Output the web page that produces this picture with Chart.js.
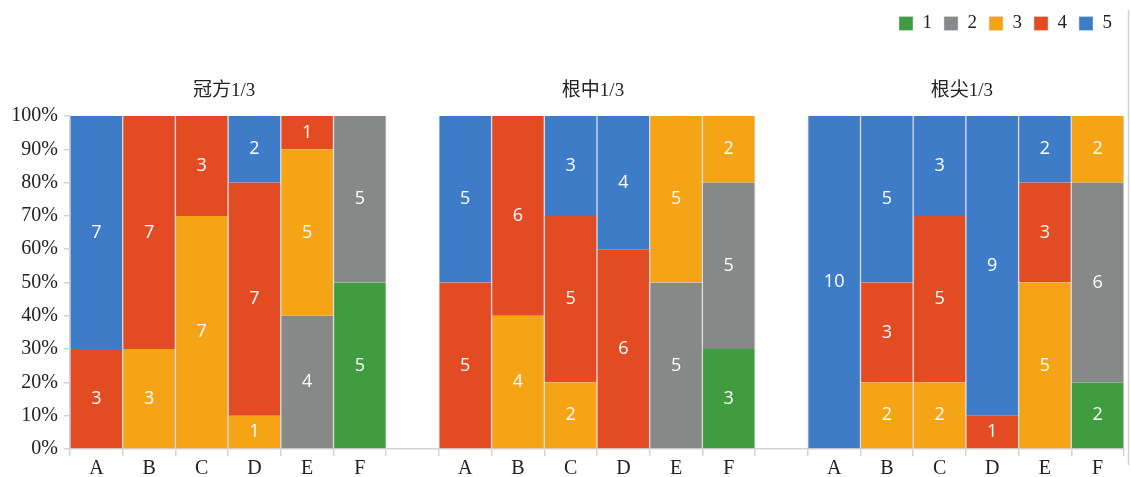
<!DOCTYPE html>
<html>
<head>
<meta charset="utf-8">
<script src="https://cdn.jsdelivr.net/npm/chart.js@4"></script>
<style>
  html, body { margin:0; padding:0; background:#fff; }
  #wrap { width:1131px; height:477px; position:relative; }
</style>
</head>
<body>
<div id="wrap"><canvas id="c" width="1131" height="477"></canvas></div>
<script>
const groups = ['冠方1/3', '根中1/3', '根尖1/3'];
const bars = ['A', 'B', 'C', 'D', 'E', 'F'];
const levels = ['1', '2', '3', '4', '5'];
const colors = ['#3f9c3f', '#878888', '#f4a415', '#e34c22', '#3f7cc8'];
const yTicks = [0, 10, 20, 30, 40, 50, 60, 70, 80, 90, 100];

// counts per bar, 冠方 A-F | 根中 A-F | 根尖 A-F
const level1 = [0,0,0,0,0,5,  0,0,0,0,0,3,  0,0,0,0,0,2];
const level2 = [0,0,0,0,4,5,  0,0,0,0,5,5,  0,0,0,0,0,6];
const level3 = [0,3,7,1,5,0,  0,4,2,0,5,2,  0,2,2,0,5,2];
const level4 = [3,7,3,7,1,0,  5,6,5,6,0,0,  0,3,5,1,3,0];
const level5 = [7,0,0,2,0,0,  5,0,3,4,0,0,  10,5,3,9,2,0];
const series = [level1, level2, level3, level4, level5];

// 6 bars per group, one empty slot between groups
const labels = [];
groups.forEach((g, i) => { if (i) labels.push(''); labels.push(...bars); });
const withGaps = (arr) => {
  const out = [];
  groups.forEach((g, i) => { if (i) out.push(null); out.push(...arr.slice(i * 6, i * 6 + 6)); });
  return out;
};
const totals = level1.map((_, i) => series.reduce((s, a) => s + a[i], 0));
const countsGap = series.map(withGaps);
const pct = series.map(a => withGaps(a.map((v, i) => v ? v / totals[i] * 100 : null)));

const serif = "'Liberation Serif', 'Noto Sans CJK SC', serif";
const axisColor = '#d3d3d3';

const segLabels = {
  id: 'segLabels',
  afterDatasetsDraw(chart) {
    const ctx = chart.ctx;
    ctx.save();
    ctx.fillStyle = '#fff';
    ctx.font = "18px 'Open Sans', sans-serif";
    ctx.textAlign = 'center';
    ctx.textBaseline = 'middle';
    chart.data.datasets.forEach((ds, di) => {
      chart.getDatasetMeta(di).data.forEach((el, i) => {
        const v = countsGap[di][i];
        if (!v) return;
        ctx.fillText(v, el.x, (el.y + el.base) / 2);
      });
    });
    ctx.restore();
  }
};

const groupTitles = {
  id: 'groupTitles',
  afterDraw(chart) {
    const ctx = chart.ctx, x = chart.scales.x, area = chart.chartArea;
    ctx.save();
    ctx.fillStyle = '#222';
    ctx.font = '19px ' + serif;
    ctx.textAlign = 'center';
    ctx.textBaseline = 'middle';
    groups.forEach((g, i) => {
      const a = x.getPixelForValue(i * 7), b = x.getPixelForValue(i * 7 + 5);
      ctx.fillText(g, (a + b) / 2 - 4, area.top - 25);
    });
    // right frame line
    ctx.strokeStyle = axisColor;
    ctx.lineWidth = 1.5;
    ctx.beginPath();
    ctx.moveTo(area.right + 4.5, 10);
    ctx.lineTo(area.right + 4.5, 465);
    ctx.stroke();
    ctx.restore();
  }
};

const legendSpace = {
  id: 'legendSpace',
  beforeInit(chart) {
    const fit = chart.legend.fit;
    chart.legend.fit = function () { fit.bind(chart.legend)(); this.height = 114; };
  }
};

new Chart(document.getElementById('c'), {
  type: 'bar',
  data: {
    labels,
    datasets: levels.map((l, i) => ({
      label: l,
      data: pct[i],
      backgroundColor: colors[i],
      borderColor: '#d6dae0',
      borderWidth: {left: 1, right: 1, top: 0, bottom: 0},
      borderSkipped: false,
      barPercentage: 1,
      categoryPercentage: 1
    }))
  },
  options: {
    responsive: false,
    animation: false,
    layout: {padding: {top: 2, right: 7, left: 0, bottom: 0}},
    plugins: {
      legend: {
        position: 'top',
        align: 'end',
        labels: {
          boxWidth: 14, boxHeight: 14, padding: 12,
          color: '#222',
          font: {family: serif, size: 19}
        }
      },
      tooltip: {enabled: false}
    },
    scales: {
      x: {
        stacked: true,
        afterFit(s) { s.height = 28; },
        grid: {offset: true, drawOnChartArea: false, tickLength: 7, color: axisColor, lineWidth: 1.5},
        border: {color: axisColor, width: 1.5},
        ticks: {color: '#222', font: {family: serif, size: 20}, padding: 1, maxRotation: 0, autoSkip: false}
      },
      y: {
        stacked: true,
        min: 0, max: 100,
        afterFit(s) { s.width = 70; },
        afterBuildTicks(s) { s.ticks = yTicks.map(v => ({value: v})); },
        grid: {drawOnChartArea: false, tickLength: 6, color: axisColor, lineWidth: 1.5},
        border: {color: axisColor, width: 1.5},
        ticks: {color: '#222', font: {family: serif, size: 20}, padding: 6, callback: v => v + '%'}
      }
    }
  },
  plugins: [segLabels, groupTitles, legendSpace]
});
</script>
</body>
</html>
